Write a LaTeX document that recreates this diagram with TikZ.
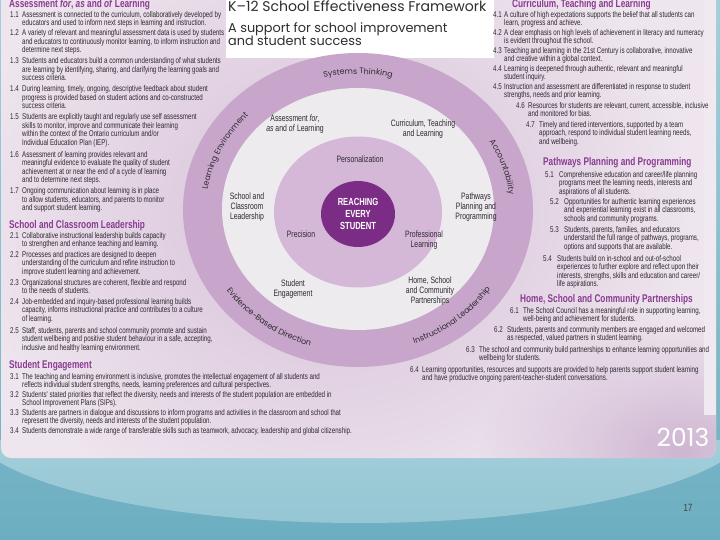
\documentclass[tikz,border=0pt]{standalone}
\usepackage{fontspec}
\newfontfamily\bodyf[FakeStretch=0.74]{Liberation Sans}
\newfontfamily\geof{Poppins}
\usetikzlibrary{decorations.text,calc,fadings}
\tikzfading[name=softedge, inner color=transparent!0, outer color=transparent!100]
\definecolor{posterbase}{HTML}{EEE5EE}
\definecolor{halo}{HTML}{D6BFD8}
\definecolor{cornerpurple}{HTML}{CFB6D2}
\definecolor{striplight}{HTML}{F1E9F0}
\definecolor{headpurple}{HTML}{8A3A92}
\definecolor{ringouter}{HTML}{C8A6CB}
\definecolor{ringlight}{HTML}{EEEBEF}
\definecolor{ringinner}{HTML}{D5B7D7}
\definecolor{core}{HTML}{7B2C84}
\definecolor{txt}{HTML}{2E2A30}
\definecolor{tealtop}{HTML}{A3CFDA}
\definecolor{tealbot}{HTML}{6CAEC1}
\definecolor{teallight}{HTML}{C6E3EA}
\newcommand\ringfnt{\geof\fontsize{8}{9}\selectfont\color{txt}}
\newcommand\sefitem[6]{%
  \node[bt] (#1n) at (#2,{-(#4)+4.3}) {\rule{0pt}{6.5bp}#5};
  \node[bt] (#1t) at (#3,{-(#4)+4.3}) {\rule{0pt}{6.5bp}#6};}
\newcommand\ringtext[6]{%
  \path[decorate,decoration={text along path,text align=center,text={|\ringfnt|#6}}]
    ($(C)+(#2:#4 and #5)$) coordinate (#1) arc[start angle=#2,end angle=#3,x radius=#4,y radius=#5];}
\tikzset{
  bt/.style={font=\bodyf\fontsize{8.4}{8.5}\selectfont, text=txt, inner sep=0pt, anchor=north west, align=left},
  hd/.style={font=\bodyf\bfseries\fontsize{11.2}{12}\selectfont, text=headpurple, inner sep=0pt, anchor=west},
  lbl/.style={font=\bodyf\fontsize{9.3}{10}\selectfont, text=txt, align=center, inner sep=0pt},
  corelbl/.style={font=\bodyf\bfseries\fontsize{10.3}{12}\selectfont, text=white, align=center, inner sep=0pt},
  titlef/.style={anchor=base west, inner sep=0, text=black!82},
}
\begin{document}
\begin{tikzpicture}[x=1bp,y=1bp]
\useasboundingbox (0,0) rectangle (720,-540);
% teal slide background
\shade[top color=tealtop, bottom color=tealbot] (0,0) rectangle (720,-540);
\begin{scope}
  \clip (0,-440) rectangle (720,-540);
  \shade[top color=teallight, bottom color=tealtop, opacity=0.75] (360,-420) ellipse [x radius=395, y radius=103];
\end{scope}
% poster
\begin{scope}
  \clip[rounded corners=10] (1,20) rectangle (716,-458);
  \fill[posterbase] (0,20) rectangle (720,-460);
  \fill[halo, path fading=softedge] (330,-215) ellipse [x radius=360, y radius=320];
  \fill[cornerpurple, path fading=softedge] (680,-450) ellipse [x radius=200, y radius=130];
  \fill[striplight] (704,20) rectangle (716,-415);
  \fill[white] (226,20) rectangle (494,-58);
\end{scope}
% title
\node[titlef, font=\geof\fontsize{14.1}{15}\selectfont] (title) at (228,-11.5) {K–12 School Effectiveness Framework};
\node[titlef, font=\geof\fontsize{12.9}{14}\selectfont] (sub1) at (228,-33) {A support for school improvement};
\node[titlef, font=\geof\fontsize{12.9}{14}\selectfont] (sub2) at (228,-45.5) {and student success};
% circle diagram
\coordinate (C) at (358,-210);
\fill[ringouter] (358,-210) ellipse [x radius=175, y radius=157];
\fill[ringlight] (358,-209) ellipse [x radius=136, y radius=121];
\fill[ringinner] (358,-212) ellipse [x radius=84, y radius=75.5];
\fill[core] (358,-214) ellipse [x radius=37, y radius=33];
\ringtext{rt1}{115}{65}{152}{136}{Systems Thinking}
\ringtext{rt2}{42}{-6}{152}{136}{Accountability}
\ringtext{rt3}{178}{130}{152}{136}{Learning Environment}
\ringtext{rt4}{203}{263}{159}{143}{Evidence-Based Direction}
\ringtext{rt5}{279}{339}{159}{143}{Instructional Leadership}
\node[lbl] (la) at (295,-124) {Assessment \textit{for},\\\textit{as} and \textit{of} Learning};
\node[lbl] (lb) at (423,-129) {Curriculum, Teaching\\and Learning};
\node[lbl] (lc) at (247,-207) {School and\\Classroom\\Leadership};
\node[lbl] (ld) at (476,-207) {Pathways\\Planning and\\Programming};
\node[lbl] (le) at (293,-289) {Student\\Engagement};
\node[lbl] (lf) at (430,-291) {Home, School\\and Community\\Partnerships};
\node[lbl] (lg) at (360,-159) {Personalization};
\node[lbl] (lh) at (301,-234) {Precision};
\node[lbl] (li) at (424,-240) {Professional\\Learning};
\node[corelbl] (core) at (358,-214) {REACHING\\EVERY\\STUDENT};
% left column
\node[hd] (h1) at (9,-5) {Assessment \textit{for}, \textit{as} and \textit{of} Learning};
\sefitem{a1}{10}{22}{15}{1.1}{Assessment is connected to the curriculum, collaboratively developed by\\educators and used to inform next steps in learning and instruction.}
\sefitem{a2}{10}{22}{33.5}{1.2}{A variety of relevant and meaningful assessment data is used by students\\and educators to continuously monitor learning, to inform instruction and\\determine next steps.}
\sefitem{a3}{10}{22}{61.5}{1.3}{Students and educators build a common understanding of what students\\are learning by identifying, sharing, and clarifying the learning goals and\\success criteria.}
\sefitem{a4}{10}{22}{89.5}{1.4}{During learning, timely, ongoing, descriptive feedback about student\\progress is provided based on student actions and co-constructed\\success criteria.}
\sefitem{a5}{10}{22}{117.5}{1.5}{Students are explicitly taught and regularly use self assessment\\skills to monitor, improve and communicate their learning\\within the context of the Ontario curriculum and/or\\Individual Education Plan (IEP).}
\sefitem{a6}{10}{22}{155}{1.6}{Assessment of learning provides relevant and\\meaningful evidence to evaluate the quality of student\\achievement at or near the end of a cycle of learning\\and to determine next steps.}
\sefitem{a7}{10}{22}{191.5}{1.7}{Ongoing communication about learning is in place\\to allow students, educators, and parents to monitor\\and support student learning.}
\node[hd] (h2) at (9,-226) {School and Classroom Leadership};
\sefitem{b1}{10}{22}{236}{2.1}{Collaborative instructional leadership builds capacity\\to strengthen and enhance teaching and learning.}
\sefitem{b2}{10}{22}{255}{2.2}{Processes and practices are designed to deepen\\understanding of the curriculum and refine instruction to\\improve student learning and achievement.}
\sefitem{b3}{10}{22}{283}{2.3}{Organizational structures are coherent, flexible and respond\\to the needs of students.}
\sefitem{b4}{10}{22}{302}{2.4}{Job-embedded and inquiry-based professional learning builds\\capacity, informs instructional practice and contributes to a culture\\of learning.}
\sefitem{b5}{10}{22}{331}{2.5}{Staff, students, parents and school community promote and sustain\\student wellbeing and positive student behaviour in a safe, accepting,\\inclusive and healthy learning environment.}
\node[hd] (h3) at (9,-366) {Student Engagement};
\sefitem{c1}{10}{22}{377}{3.1}{The teaching and learning environment is inclusive, promotes the intellectual engagement of all students and\\reflects individual student strengths, needs, learning preferences and cultural perspectives.}
\sefitem{c2}{10}{22}{395}{3.2}{Students' stated priorities that reflect the diversity, needs and interests of the student population are embedded in\\School Improvement Plans (SIPs).}
\sefitem{c3}{10}{22}{413}{3.3}{Students are partners in dialogue and discussions to inform programs and activities in the classroom and school that\\represent the diversity, needs and interests of the student population.}
\sefitem{c4}{10}{22}{431}{3.4}{Students demonstrate a wide range of transferable skills such as teamwork, advocacy, leadership and global citizenship.}
% right column
\node[hd] (h4) at (512,-5) {Curriculum, Teaching and Learning};
\sefitem{d1}{493}{504}{15}{4.1}{A culture of high expectations supports the belief that all students can\\learn, progress and achieve.}
\sefitem{d2}{493}{504}{33}{4.2}{A clear emphasis on high levels of achievement in literacy and numeracy\\is evident throughout the school.}
\sefitem{d3}{493}{504}{51}{4.3}{Teaching and learning in the 21st Century is collaborative, innovative\\and creative within a global context.}
\sefitem{d4}{493}{504}{69}{4.4}{Learning is deepened through authentic, relevant and meaningful\\student inquiry.}
\sefitem{d5}{493}{504}{87}{4.5}{Instruction and assessment are differentiated in response to student\\strengths, needs and prior learning.}
\sefitem{d6}{516}{528}{106}{4.6}{Resources for students are relevant, current, accessible, inclusive\\and monitored for bias.}
\sefitem{d7}{526}{539}{125}{4.7}{Timely and tiered interventions, supported by a team\\approach, respond to individual student learning needs,\\and wellbeing.}
\node[hd] (h5) at (543,-163) {Pathways Planning and Programming};
\sefitem{e1}{545}{559}{175}{5.1}{Comprehensive education and career/life planning\\programs meet the learning needs, interests and\\aspirations of all students.}
\sefitem{e2}{550}{564}{202}{5.2}{Opportunities for authentic learning experiences\\and experiential learning exist in all classrooms,\\schools and community programs.}
\sefitem{e3}{550}{564}{230}{5.3}{Students, parents, families, and educators\\understand the full range of pathways, programs,\\options and supports that are available.}
\sefitem{e4}{543}{557}{259}{5.4}{Students build on in-school and out-of-school\\experiences to further explore and reflect upon their\\interests, strengths, skills and education and career/\\life aspirations.}
\node[hd] (h6) at (520,-300) {Home, School and Community Partnerships};
\sefitem{f1}{510}{523}{311}{6.1}{The School Council has a meaningful role in supporting learning,\\well-being and achievement for students.}
\sefitem{f2}{494}{507}{330}{6.2}{Students, parents and community members are engaged and welcomed\\as respected, valued partners in student learning.}
\sefitem{f3}{466}{479}{350}{6.3}{The school and community build partnerships to enhance learning opportunities and\\wellbeing for students.}
\sefitem{f4}{410}{422}{370}{6.4}{Learning opportunities, resources and supports are provided to help parents support student learning\\and have productive ongoing parent-teacher-student conversations.}
% year and page number
\node[font=\geof\fontsize{25}{28}\selectfont, text=white, inner sep=0] (year) at (683,-437) {2013};
\node[font=\bodyf\fontsize{10.5}{12}\selectfont, text=black!75, inner sep=0] (page) at (688,-508) {17};
\end{tikzpicture}
\end{document}
